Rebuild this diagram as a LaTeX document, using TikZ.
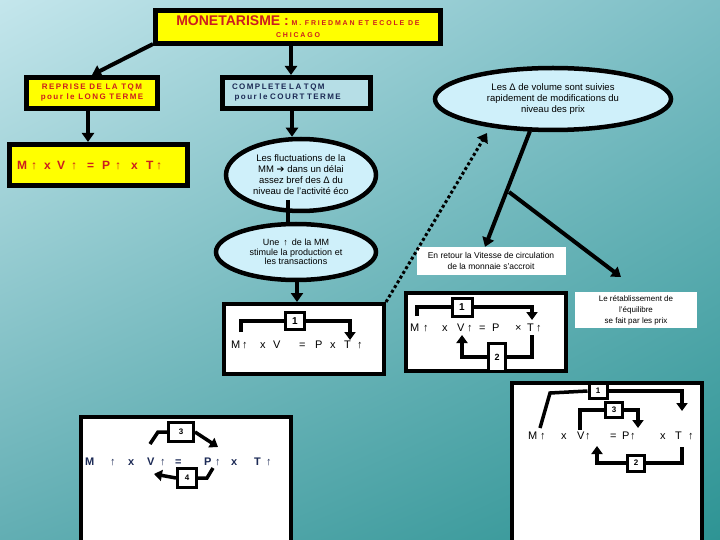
\documentclass[tikz,border=0pt]{standalone}
\usepackage{fontspec}
\setmainfont{Liberation Sans}
\newfontfamily\widefont[LetterSpace=18]{Liberation Sans}
\newfontfamily\widerfont[LetterSpace=26]{Liberation Sans}
\newfontfamily\dejavu{DejaVu Sans}
\usetikzlibrary{arrows.meta,shapes.geometric,shadings}
\definecolor{bgA}{HTML}{C4E6EC}
\definecolor{bgB}{HTML}{7CBEC5}
\definecolor{bgC}{HTML}{62AEB3}
\definecolor{bgD}{HTML}{2E9494}
\definecolor{ybox}{HTML}{FFFF00}
\definecolor{rtext}{HTML}{CC1E1E}
\definecolor{ntext}{HTML}{1C2A55}
\definecolor{ellfill}{HTML}{CFF0FA}
\definecolor{cbox}{HTML}{B6DEE6}
\newcommand\tok[2]{\makebox[0pt][l]{\hspace*{#1pt}#2}}
\tikzset{
  yellowbox/.style={draw=black,line width=5pt,fill=ybox,inner sep=0pt},
  bluebox/.style={draw=black,line width=5pt,fill=cbox,inner sep=0pt},
  ellbox/.style={ellipse,draw=black,line width=4.5pt,fill=ellfill,inner sep=0pt,align=center,font=\fontsize{9.5}{11}\selectfont},
  whitebox/.style={draw=black,line width=4pt,fill=white,inner sep=0pt},
  notebox/.style={fill=white,inner sep=0pt,align=center},
  numbox/.style={draw=black,line width=3pt,fill=white,inner sep=0pt,font=\fontsize{10}{11}\bfseries},
  conn/.style={line width=4pt,-{Triangle[length=9pt,width=12pt]}},
  dotconn/.style={line width=3pt,dash pattern=on 3pt off 2.5pt,-{Triangle[length=9pt,width=12pt]}},
  bracket/.style={line width=3.5pt},
  bracketarrow/.style={line width=3.5pt,-{Triangle[length=8pt,width=11pt]}},
  eqtext/.style={inner sep=0pt,anchor=west,font=\fontsize{11}{12}\selectfont}
}
\begin{document}
\begin{tikzpicture}[x=1pt,y=-1pt]
\useasboundingbox (0,0) rectangle (720,540);
\shade[upper left=bgA,upper right=bgB,lower left=bgC,lower right=bgD] (0,0) rectangle (720,540);

% title
\node[yellowbox,minimum width=285pt,minimum height=33pt,align=center,text=rtext] (title) at (298,27)
 {{\fontsize{14}{14}\selectfont\bfseries MONETARISME :} {\widerfont\fontsize{7}{8}\selectfont\bfseries M. FRIEDMAN ET ECOLE DE}\\[0pt]{\widerfont\fontsize{7}{8}\selectfont\bfseries CHICAGO}};

% top row
\node[yellowbox,minimum width=131pt,minimum height=31pt,align=center,text=rtext,font=\widefont\fontsize{8}{10}\selectfont\bfseries] (reprise) at (92,93)
 {REPRISE DE LA TQM\\pour le LONG TERME};
\node[bluebox,minimum width=148pt,minimum height=31pt,text width=128pt,align=left,text=ntext,font=\widefont\fontsize{8}{10}\selectfont\bfseries] (complete) at (296,93)
 {COMPLETE LA TQM\\\ pour le COURT TERME};
\node[ellbox,minimum width=236pt,minimum height=62pt] (ellR) at (553,99)
 {Les Δ de volume sont suivies\\rapidement de modifications du\\niveau des prix};

% left equation box
\node[yellowbox,minimum width=178pt,minimum height=41pt] (eqY) at (98,165) {};
\node[eqtext,text=rtext,font=\fontsize{12}{13}\selectfont\bfseries] (eqYt) at (17,166)
 {\tok{0}{M}\tok{14}{↑}\tok{27}{x}\tok{40}{V}\tok{54}{↑}\tok{70}{=}\tok{85}{P}\tok{98}{↑}\tok{114}{x}\tok{129}{T}\tok{139}{↑}\phantom{M}};

% middle ellipses
\node[ellbox,minimum width=150pt,minimum height=72pt] (ell2) at (301,175)
 {Les fluctuations de la\\MM {\dejavu\bfseries ➔} dans un délai\\assez bref des Δ du\\niveau de l'activité éco};
\node[ellbox,minimum width=160pt,minimum height=56pt,font=\fontsize{9}{9.5}\selectfont] (ell3) at (296,252)
 {Une \,↑\, de la MM\\stimule la production et\\les transactions};

% box A (middle)
\node[whitebox,minimum width=160pt,minimum height=70pt] (boxA) at (304,339) {};
\node[numbox,minimum width=19pt,minimum height=17pt] (nA1) at (295,321) {1};
\node[eqtext] (eqA) at (231,345)
 {\tok{0}{M}\tok{11}{↑}\tok{29}{x}\tok{42}{V}\tok{68}{=}\tok{84}{P}\tok{99}{x}\tok{113}{T}\tok{126}{↑}\phantom{M}};
\coordinate (a1l) at (241,332);
\coordinate (a1r) at (350,340);

% notes
\node[notebox,minimum width=149pt,minimum height=28pt,font=\fontsize{8.5}{10.5}\selectfont] (retour) at (491,261)
 {En retour la Vitesse de circulation\\de la monnaie s'accroit};
\node[notebox,minimum width=122pt,minimum height=36pt,font=\fontsize{8}{11}\selectfont] (retab) at (636,310)
 {Le rétablissement de\\l'équilibre\\se fait par les prix};

% box B (right)
\node[whitebox,minimum width=160pt,minimum height=78pt] (boxB) at (486,332) {};
\node[numbox,minimum width=20pt,minimum height=18pt] (nB1) at (462,307) {1};
\node[numbox,minimum width=17pt,minimum height=28pt] (nB2) at (497,357) {\fontsize{9}{10}\selectfont 2};
\node[eqtext] (eqB) at (410,328)
 {\tok{0}{M}\tok{13}{↑}\tok{32}{x}\tok{47}{V}\tok{57}{↑}\tok{69}{=}\tok{82}{P}\tok{105}{×}\tok{117}{T}\tok{126}{↑}\phantom{M}};
\coordinate (b1l) at (417,316);
\coordinate (b1r) at (532,320);
\coordinate (b2r) at (532,335);
\coordinate (b2l) at (462,335);

% box C (bottom left)
\node[whitebox,minimum width=210pt,minimum height=140pt] (boxC) at (186,487) {};
\node[numbox,minimum width=25pt,minimum height=19pt] (nC3) at (181,432) {\fontsize{8}{9}\selectfont 3};
\node[numbox,minimum width=19pt,minimum height=19pt] (nC4) at (187,478) {\fontsize{8}{9}\selectfont 4};
\node[eqtext,text=ntext,font=\fontsize{11}{12}\selectfont\bfseries] (eqC) at (85,462)
 {\tok{0}{M}\tok{25}{↑}\tok{43}{x}\tok{62}{V}\tok{75}{↑}\tok{90}{=}\tok{119}{P}\tok{130}{↑}\tok{146}{x}\tok{169}{T}\tok{181}{↑}\phantom{M}};

% box D (bottom right)
\node[whitebox,minimum width=190pt,minimum height=160pt] (boxD) at (607,463) {};
\node[numbox,minimum width=18pt,minimum height=15pt] (nD1) at (598,391) {\fontsize{8}{9}\selectfont 1};
\node[numbox,minimum width=17pt,minimum height=15pt] (nD3) at (614,410) {\fontsize{8}{9}\selectfont 3};
\node[numbox,minimum width=17pt,minimum height=16pt] (nD2) at (636,463) {\fontsize{8}{9}\selectfont 2};
\node[eqtext] (eqD) at (528,436)
 {\tok{0}{M}\tok{12}{↑}\tok{33}{x}\tok{49}{V}\tok{57}{↑}\tok{82}{=}\tok{94}{P}\tok{102}{↑}\tok{132}{x}\tok{147}{T}\tok{160}{↑}\phantom{M}};

% connectors
\coordinate (tl) at (153,44);
\draw[conn] (tl) -- (reprise.north);
\draw[conn] (title.south -| 291,0) -- (complete.north -| 291,0);
\draw[conn] (reprise.south -| 88,0) -- (eqY.north -| 88,0);
\draw[conn] (complete.south -| 292,0) -- (ell2.north -| 292,0);
\coordinate (e2s) at (288,200);
\draw[line width=4pt] (e2s) -- (ell3.north -| 288,0);
\draw[conn] (ell3.south -| 297,0) -- (boxA.north -| 297,0);
\coordinate (ellRb) at (530,131);
\coordinate (ellRd) at (487,133);
\coordinate (fork) at (509,192);
\coordinate (retabtip) at (621,277);
\draw[conn] (ellRb) -- (retour.north -| 485,0);
\draw[conn] (fork) -- (retabtip);
\draw[dotconn] (boxA.north east) -- (ellRd);

% brackets box A
\draw[bracket] (a1l) |- (nA1.west);
\draw[bracketarrow] (nA1.east) -| (a1r);
% box B
\draw[bracket] (b1l) |- (nB1.west);
\draw[bracketarrow] (nB1.east) -| (b1r);
\draw[bracket] (b2r) |- (nB2.east);
\draw[bracketarrow] (nB2.west) -| (b2l);
% box C
\coordinate (c3a) at (158,432);
\coordinate (c3b) at (150,444);
\coordinate (c3c) at (218,447);
\draw[bracket] (nC3.west) -- (c3a) -- (c3b);
\draw[bracketarrow] (nC3.east) -- (c3c);
\coordinate (c4a) at (207,478);
\coordinate (c4b) at (213,468);
\coordinate (c4c) at (154,474);
\draw[bracket] (nC4.east) -- (c4a) -- (c4b);
\draw[bracketarrow] (nC4.west) -- (c4c);
% box D
\coordinate (d1a) at (550,393);
\coordinate (d1b) at (540,428);
\coordinate (d1c) at (682,411);
\draw[bracket] (nD1.west) -- (d1a) -- (d1b);
\draw[bracketarrow] (nD1.east) -| (d1c);
\coordinate (d3a) at (580,430);
\coordinate (d3c) at (638,428);
\draw[bracket] (nD3.west) -| (d3a);
\draw[bracketarrow] (nD3.east) -| (d3c);
\coordinate (d2a) at (682,447);
\coordinate (d2c) at (597,446);
\draw[bracket] (nD2.east) -| (d2a);
\draw[bracketarrow] (nD2.west) -| (d2c);
\end{tikzpicture}
\end{document}
